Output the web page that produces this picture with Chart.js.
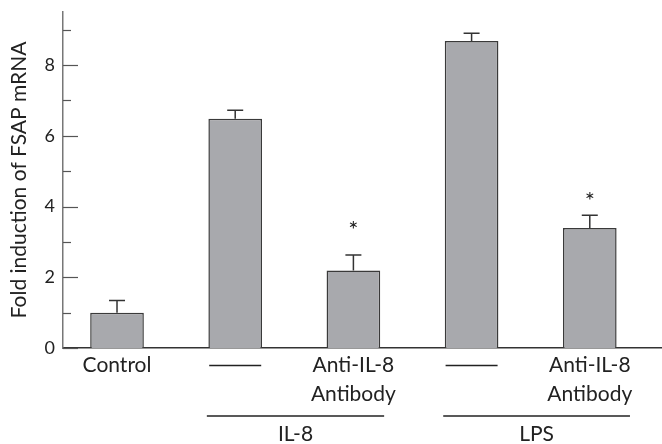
<!DOCTYPE html>
<html>
<head>
<meta charset="utf-8">
<script src="https://cdn.jsdelivr.net/npm/chart.js@4"></script>
<style>
  html, body { margin: 0; padding: 0; background: #fff; }
</style>
</head>
<body>
<canvas id="chart" width="662" height="444"></canvas>
<script>
// categories along the x axis ('' = no treatment, shown as a dash)
const categories = ['Control', '', ['Anti-IL-8', 'Antibody'], '', ['Anti-IL-8', 'Antibody']];
// fold induction of FSAP mRNA (mean) and upper error bar
const foldInduction = [1.0, 6.48, 2.19, 8.68, 3.39];
const errorUp = [0.34, 0.24, 0.44, 0.22, 0.36];
// asterisk heights (axis units), null = no mark
const starAt = [null, null, 3.47, null, 4.30];
// stimulus groups under the axis: label + first/last category index
const groupLabels = ['IL-8', 'LPS'];
const groupFrom = [1, 3];
const groupTo = [2, 4];
// y axis ticks, only the even ones get a label
const yTicks = [0, 1, 2, 3, 4, 5, 6, 7, 8, 9];
const yLabelled = [0, 2, 4, 6, 8];

const FONT = 'Lato, "Open Sans", sans-serif';
const INK = '#222';

// error bars, asterisks, inward y ticks, dashes and group brackets
const annotate = {
  id: 'annotate',
  afterDatasetsDraw(chart) {
    const { ctx, scales: { x, y } } = chart;
    const meta = chart.getDatasetMeta(0);
    ctx.save();
    ctx.strokeStyle = '#333';
    ctx.lineWidth = 1.5;
    meta.data.forEach((bar, i) => {
      const top = y.getPixelForValue(foldInduction[i] + errorUp[i]);
      ctx.beginPath();
      ctx.moveTo(bar.x, bar.y);
      ctx.lineTo(bar.x, top);
      ctx.moveTo(bar.x - 8, top);
      ctx.lineTo(bar.x + 8, top);
      ctx.stroke();
    });
    ctx.fillStyle = INK;
    ctx.font = '24px ' + FONT;
    ctx.textAlign = 'center';
    ctx.textBaseline = 'middle';
    starAt.forEach((v, i) => {
      if (v == null) return;
      ctx.fillText('*', x.getPixelForValue(i), y.getPixelForValue(v) + 5);
    });
    ctx.restore();
  },
  afterDraw(chart) {
    const { ctx, chartArea, scales: { x, y } } = chart;
    const unit = x.getPixelForValue(1) - x.getPixelForValue(0);
    ctx.save();
    // y ticks point into the plot
    ctx.strokeStyle = '#555';
    ctx.lineWidth = 1.2;
    yTicks.forEach(v => {
      const py = Math.round(y.getPixelForValue(v)) + 0.5;
      const len = yLabelled.includes(v) ? 15 : 8;
      ctx.beginPath();
      ctx.moveTo(chartArea.left, py);
      ctx.lineTo(chartArea.left + len, py);
      ctx.stroke();
    });
    // dashes for "no antibody"
    ctx.strokeStyle = INK;
    ctx.lineWidth = 1.3;
    categories.forEach((c, i) => {
      if (c !== '') return;
      const px = x.getPixelForValue(i);
      const py = chartArea.bottom + 17.5;
      ctx.beginPath();
      ctx.moveTo(px - 26, py);
      ctx.lineTo(px + 26, py);
      ctx.stroke();
    });
    // group brackets
    const extRight = [0.26, 0.34];
    ctx.fillStyle = INK;
    ctx.font = '21px ' + FONT;
    ctx.textAlign = 'center';
    ctx.textBaseline = 'alphabetic';
    groupLabels.forEach((g, k) => {
      const x0 = x.getPixelForValue(groupFrom[k]) - 0.24 * unit;
      const x1 = x.getPixelForValue(groupTo[k]) + extRight[k] * unit;
      const py = chartArea.bottom + 68;
      ctx.beginPath();
      ctx.moveTo(x0, py);
      ctx.lineTo(x1, py);
      ctx.stroke();
      ctx.fillText(g, (x0 + x1) / 2, chartArea.bottom + 93);
    });
    ctx.restore();
  }
};

new Chart(document.getElementById('chart').getContext('2d'), {
  type: 'bar',
  data: {
    datasets: [{
      data: foldInduction.map((v, i) => ({ x: i, y: v })),
      backgroundColor: '#a8a9ad',
      borderColor: '#3a3a3a',
      borderWidth: 1.5,
      barPercentage: 0.454,
      categoryPercentage: 1
    }]
  },
  options: {
    responsive: false,
    animation: false,
    layout: { padding: { top: 12, right: 0, left: 0, bottom: 0 } },
    plugins: { legend: { display: false }, tooltip: { enabled: false } },
    scales: {
      x: {
        type: 'linear',
        offset: false,
        min: -0.457,
        max: 4.611,
        afterBuildTicks: s => { s.ticks = categories.map((_, i) => ({ value: i })); },
        afterFit: s => { s.height = 96; s.paddingLeft = 0; s.paddingRight = 0; },
        grid: { display: false, drawTicks: false },
        border: { color: '#333', width: 1.5 },
        ticks: {
          autoSkip: false,
          maxRotation: 0,
          padding: 3,
          color: INK,
          font: { family: FONT, size: 21, lineHeight: 1.38 },
          callback: v => categories[v]
        }
      },
      y: {
        min: 0,
        max: 9.5,
        afterFit: s => { s.width = 63; s.paddingTop = 0; s.paddingBottom = 0; },
        grid: { display: false, drawTicks: false },
        border: { color: '#777', width: 1.5 },
        ticks: {
          stepSize: 1,
          includeBounds: false,
          padding: 8,
          color: INK,
          font: { family: FONT, size: 18 },
          callback: v => (yLabelled.includes(v) ? String(v) : '')
        },
        title: {
          display: true,
          text: 'Fold induction of FSAP mRNA',
          color: INK,
          font: { family: FONT, size: 21 },
          padding: { top: 7, bottom: 0 }
        }
      }
    }
  },
  plugins: [annotate]
});
</script>
</body>
</html>
